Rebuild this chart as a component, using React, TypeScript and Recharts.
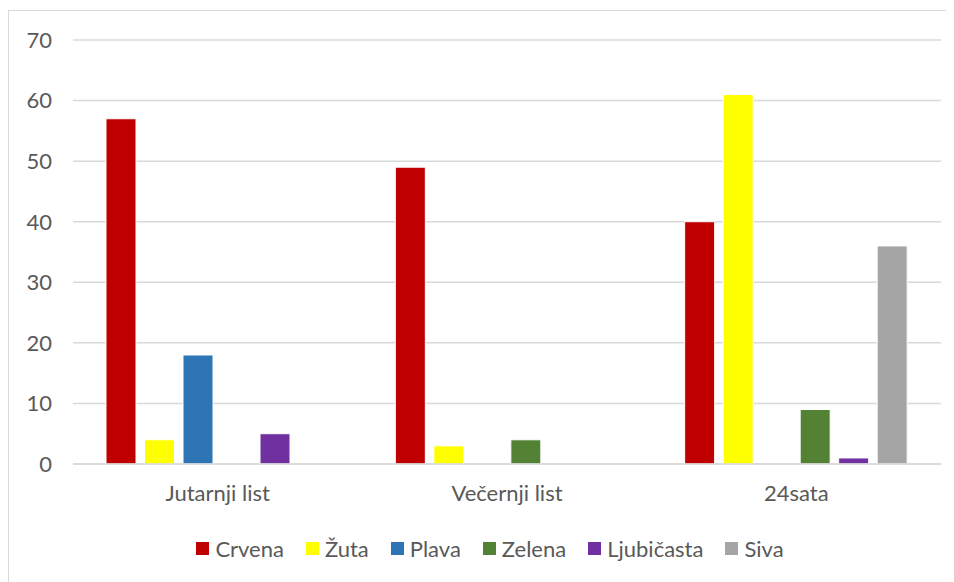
import { Bar, BarChart, CartesianGrid, Legend, XAxis, YAxis } from "recharts";

const categories = ["Jutarnji list", "Večernji list", "24sata"];
const crvena = [57, 49, 40];
const zuta = [4, 3, 61];
const plava = [18, 0, 0];
const zelena = [0, 4, 9];
const ljubicasta = [5, 0, 1];
const siva = [0, 0, 36];
const yTicks = [0, 10, 20, 30, 40, 50, 60, 70];

const seriesDefs = [
  { key: "Crvena", values: crvena, color: "#C00000" },
  { key: "Žuta", values: zuta, color: "#FFFF00" },
  { key: "Plava", values: plava, color: "#2E75B6" },
  { key: "Zelena", values: zelena, color: "#548235" },
  { key: "Ljubičasta", values: ljubicasta, color: "#7030A0" },
  { key: "Siva", values: siva, color: "#A5A5A5" },
];

const data = categories.map((name, i) => {
  const row: Record<string, string | number> = { name };
  seriesDefs.forEach((s) => {
    row[s.key] = s.values[i];
  });
  return row;
});

const FONT = "Lato, 'Liberation Sans', sans-serif";
const TEXT = "#595959";

function LegendContent() {
  return (
    <div
      style={{
        display: "flex",
        justifyContent: "center",
        alignItems: "center",
        gap: 22,
        fontFamily: FONT,
        fontSize: 22,
        color: TEXT,
        marginLeft: 30,
      }}
    >
      {seriesDefs.map((s) => (
        <span key={s.key} style={{ display: "flex", alignItems: "center" }}>
          <span
            style={{
              width: 13,
              height: 13,
              background: s.color,
              display: "inline-block",
              marginRight: 6,
            }}
          />
          {s.key}
        </span>
      ))}
    </div>
  );
}

export default function App() {
  return (
    <div
      style={{
        position: "relative",
        width: 946,
        height: 574,
        marginTop: 2,
        borderLeft: "1px solid #d9d9d9",
        borderTop: "1px solid #d9d9d9",
        boxSizing: "border-box",
        background: "#fff",
      }}
    >
      <BarChart
        width={945}
        height={573}
        data={data}
        margin={{ top: 29, right: 13, left: 0, bottom: 0 }}
        barSize={30}
        barGap={8.5}
      >
        <CartesianGrid vertical={false} stroke="#d9d9d9" strokeWidth={1.5} />
        <XAxis
          dataKey="name"
          axisLine={{ stroke: "#d9d9d9", strokeWidth: 1.5 }}
          tickLine={false}
          tick={{ fill: TEXT, fontSize: 22, fontFamily: FONT, dy: 13 }}
          height={80}
        />
        <YAxis
          domain={[0, 70]}
          ticks={yTicks}
          axisLine={false}
          tickLine={false}
          width={64}
          tick={{ fill: TEXT, fontSize: 22, fontFamily: FONT, dx: -13 }}
        />
        <Legend
          verticalAlign="bottom"
          height={40}
          wrapperStyle={{ bottom: 9 }}
          content={<LegendContent />}
        />
        {seriesDefs.map((s) => (
          <Bar
            key={s.key}
            dataKey={s.key}
            fill={s.color}
            stroke="#ffffff"
            strokeWidth={1}
            isAnimationActive={false}
          />
        ))}
      </BarChart>
    </div>
  );
}
